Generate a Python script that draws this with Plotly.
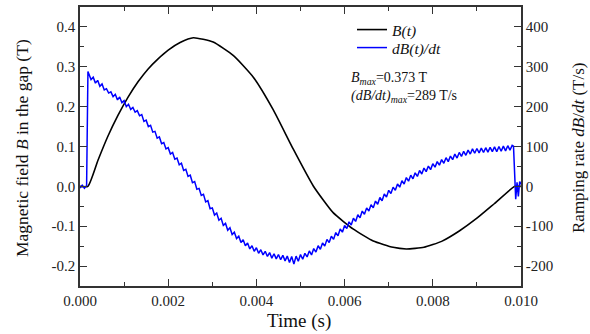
import plotly.graph_objects as go

# ---- data ----
t_field = [0.0, 0.00018, 0.00041, 0.00063, 0.00086, 0.00109, 0.00132, 0.00154, 0.00177,
           0.0020, 0.00227, 0.00257, 0.00302, 0.00348, 0.00393, 0.00438, 0.00484,
           0.00529, 0.00574, 0.0062, 0.00665, 0.0071, 0.0074, 0.0078, 0.0082, 0.0086,
           0.0090, 0.0094, 0.00986, 0.0100]
field = [0.0, 0.0, 0.066, 0.125, 0.178, 0.224, 0.263, 0.294, 0.320,
         0.342, 0.361, 0.373, 0.362, 0.328, 0.274, 0.1925, 0.0925,
         0.001, -0.066, -0.1075, -0.137, -0.153, -0.157, -0.153, -0.138, -0.112,
         -0.080, -0.043, 0.0, 0.0]

t_rate = [
    0.0, 0.00005, 0.0001, 0.00015, 0.00018,
    0.0002, 0.00025, 0.0003, 0.00035, 0.0004, 0.00045, 0.0005, 0.00055, 0.0006, 0.00065,
    0.0007, 0.00075, 0.0008, 0.00085, 0.0009, 0.00095, 0.0010, 0.00105, 0.0011, 0.00115,
    0.0012, 0.00125, 0.0013, 0.00135, 0.0014, 0.00145, 0.0015, 0.00155, 0.0016, 0.00165,
    0.0017, 0.00175, 0.0018, 0.00185, 0.0019, 0.00195, 0.0020, 0.00205, 0.0021, 0.00215,
    0.0022, 0.00225, 0.0023, 0.00235, 0.0024, 0.00245, 0.0025, 0.00255, 0.0026, 0.00265,
    0.0027, 0.00275, 0.0028, 0.00285, 0.0029, 0.00295, 0.0030, 0.00305, 0.0031, 0.00315,
    0.0032, 0.00325, 0.0033, 0.00335, 0.0034, 0.00345, 0.0035, 0.00355, 0.0036, 0.00365,
    0.0037, 0.00375, 0.0038, 0.00385, 0.0039, 0.00395, 0.0040, 0.00405, 0.0041, 0.00415,
    0.0042, 0.00425, 0.0043, 0.00435, 0.0044, 0.00445, 0.0045, 0.00455, 0.0046, 0.00465,
    0.0047, 0.00475, 0.0048, 0.00485, 0.0049, 0.00495, 0.0050, 0.00505, 0.0051, 0.00515,
    0.0052, 0.00525, 0.0053, 0.00535, 0.0054, 0.00545, 0.0055, 0.00555, 0.0056, 0.00565,
    0.0057, 0.00575, 0.0058, 0.00585, 0.0059, 0.00595, 0.0060, 0.00605, 0.0061, 0.00615,
    0.0062, 0.00625, 0.0063, 0.00635, 0.0064, 0.00645, 0.0065, 0.00655, 0.0066, 0.00665,
    0.0067, 0.00675, 0.0068, 0.00685, 0.0069, 0.00695, 0.0070, 0.00705, 0.0071, 0.00715,
    0.0072, 0.00725, 0.0073, 0.00735, 0.0074, 0.00745, 0.0075, 0.00755, 0.0076, 0.00765,
    0.0077, 0.00775, 0.0078, 0.00785, 0.0079, 0.00795, 0.0080, 0.00805, 0.0081, 0.00815,
    0.0082, 0.00825, 0.0083, 0.00835, 0.0084, 0.00845, 0.0085, 0.00855, 0.0086, 0.00865,
    0.0087, 0.00875, 0.0088, 0.00885, 0.0089, 0.00895, 0.0090, 0.00905, 0.0091, 0.00915,
    0.0092, 0.00925, 0.0093, 0.00935, 0.0094, 0.00945, 0.0095, 0.00955, 0.0096, 0.00965,
    0.0097, 0.00975, 0.0098, 0.00983, 0.00988, 0.00991, 0.00994, 0.00997, 0.0100]
rate = [
    -4, 3, -5, 2, 288,
    281, 268, 274, 259, 266, 251, 257, 242, 245, 234,
    237, 225, 231, 217, 224, 210, 215, 200, 206, 193,
    198, 186, 190, 177, 180, 163, 166, 150, 153, 136,
    138, 121, 124, 107, 110, 94, 97, 81, 85, 68,
    71, 54, 58, 40, 43, 25, 28, 9, 12, -7,
    -5, -23, -20, -39, -36, -56, -54, -72, -67, -85,
    -80, -98, -93, -110, -104, -121, -115, -131, -125, -141,
    -134, -149, -142, -157, -149, -163, -154, -168, -159, -172,
    -163, -176, -166, -180, -169, -182, -171, -184, -173, -187,
    -175, -191, -176, -195, -175, -188, -171, -183, -168, -177,
    -162, -172, -156, -165, -149, -158, -142, -150, -133, -141,
    -125, -133, -116, -124, -107, -115, -98, -106, -89, -97,
    -80, -88, -71, -79, -62, -70, -54, -62, -46, -54,
    -37, -45, -28, -36, -19, -27, -10, -18, -2, -10,
    6, -2, 14, 6, 22, 13, 28, 19, 34, 25,
    40, 31, 46, 37, 51, 42, 57, 48, 62, 53,
    67, 58, 72, 62, 76, 67, 81, 71, 85, 75,
    88, 78, 91, 81, 94, 83, 95, 84, 96, 85,
    97, 86, 98, 87, 99, 87, 100, 88, 101, 89,
    102, 91, 103, 101, -32, 10, -25, 12, 5]

x_tickvals = [0.0, 0.002, 0.004, 0.006, 0.008, 0.010]
x_ticktext = ["0.000", "0.002", "0.004", "0.006", "0.008", "0.010"]
y1_tickvals = [-0.2, -0.1, 0.0, 0.1, 0.2, 0.3, 0.4]
y1_ticktext = ["-0.2", "-0.1", "0.0", "0.1", "0.2", "0.3", "0.4"]
y2_tickvals = [-200, -100, 0, 100, 200, 300, 400]
y2_ticktext = ["-200", "-100", "0", "100", "200", "300", "400"]

FONT = "Liberation Serif"
AX = "#333333"
L, R, T, B = 80, 521, 7, 286
W, H = R - L, B - T

fig = go.Figure()
fig.add_trace(go.Scatter(x=t_field, y=field, mode="lines", name="<i>B(t)</i>",
                         line=dict(color="black", width=1.6, shape="spline", smoothing=0.5),
                         yaxis="y", legend="legend"))
fig.add_trace(go.Scatter(x=t_rate, y=rate, mode="lines", name="<i>dB(t)/dt</i>",
                         line=dict(color="#0000ff", width=1.5), yaxis="y2", legend="legend2"))

common = dict(showgrid=False, zeroline=False, showline=True, linecolor=AX, linewidth=1.5,
              ticks="inside", ticklen=7, tickwidth=1.2, tickcolor=AX, automargin=False,
              tickfont=dict(family=FONT, size=15, color="#222"))
leg_common = dict(xanchor="left", yanchor="middle", bgcolor="rgba(0,0,0,0)",
                  font=dict(family=FONT, size=15.5, color="#111"))

fig.update_layout(
    width=590, height=334,
    margin=dict(l=L, r=590 - R, t=T, b=334 - B),
    paper_bgcolor="white", plot_bgcolor="white",
    font=dict(family=FONT, color="#111"),
    showlegend=True,
    legend=dict(x=(352 - L) / W, y=(B - 30) / H, **leg_common),
    legend2=dict(x=(352 - L) / W, y=(B - 48) / H, **leg_common),
    xaxis=dict(range=[0, 0.010], tickvals=x_tickvals, ticktext=x_ticktext,
               mirror="ticks",
               minor=dict(dtick=0.001, tick0=0, ticks="inside", ticklen=4, tickcolor=AX),
               **common),
    yaxis=dict(range=[-0.25, 0.45], tickvals=y1_tickvals, ticktext=y1_ticktext,
               minor=dict(dtick=0.05, tick0=0, ticks="inside", ticklen=4, tickcolor=AX),
               **common),
    yaxis2=dict(range=[-250, 450], overlaying="y", side="right",
                tickvals=y2_tickvals, ticktext=y2_ticktext,
                minor=dict(dtick=50, tick0=0, ticks="inside", ticklen=4, tickcolor=AX),
                **common),
)

# axis titles
fig.add_annotation(x=(299 - L) / W, y=(B - 321) / H, xref="paper", yref="paper",
                   xanchor="center", yanchor="middle", showarrow=False,
                   text="Time (s)", font=dict(family=FONT, size=19, color="#111"))
fig.add_annotation(x=(22 - L) / W, y=(B - 148) / H, xref="paper", yref="paper",
                   xanchor="center", yanchor="middle", showarrow=False, textangle=-90,
                   text="Magnetic field <i>B</i> in the gap (T)",
                   font=dict(family=FONT, size=17.5, color="#111"))
fig.add_annotation(x=(578 - L) / W, y=(B - 148) / H, xref="paper", yref="paper",
                   xanchor="center", yanchor="middle", showarrow=False, textangle=-90,
                   text="Ramping rate <i>dB</i>/<i>dt</i> (T/s)",
                   font=dict(family=FONT, size=17, color="#111"))
# max values
fig.add_annotation(x=(349 - L) / W, y=(B - 87) / H, xref="paper", yref="paper",
                   xanchor="left", yanchor="middle", align="left", showarrow=False,
                   text=("<i>B</i><sub><i>max</i></sub>=0.373 T<br>"
                         "<i>(dB/dt)</i><sub><i>max</i></sub>=289 T/s"),
                   font=dict(family=FONT, size=14, color="#111"))

fig.write_html("out.html", config={"displayModeBar": False},
               post_script="document.body.style.margin='0px';")
